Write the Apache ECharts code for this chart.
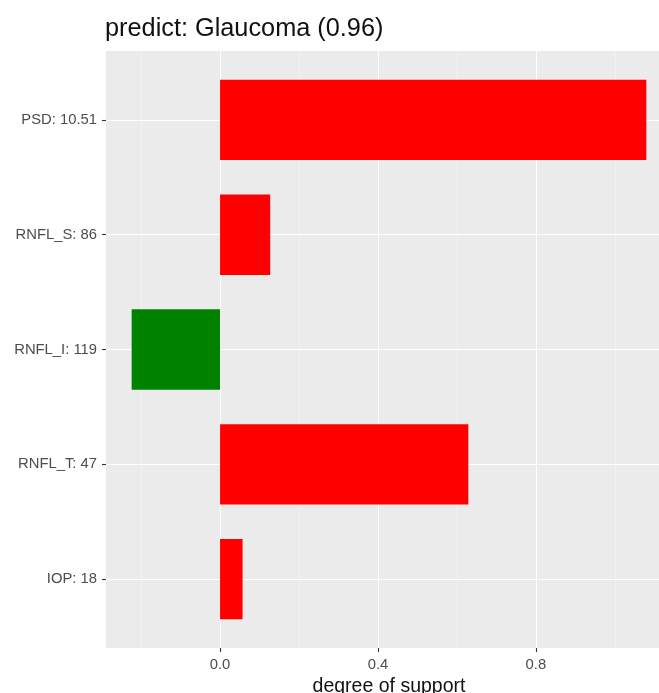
<!DOCTYPE html>
<html>
<head>
<meta charset="utf-8">
<script src="https://cdn.jsdelivr.net/npm/echarts@6/dist/echarts.min.js"></script>
<style>
  html, body { margin: 0; padding: 0; background: #ffffff; }
  #chart { width: 659px; height: 693px; }
</style>
</head>
<body>
<div id="chart"></div>
<script>
// Feature contributions for one prediction
const categories = ['PSD: 10.51', 'RNFL_S: 86', 'RNFL_I: 119', 'RNFL_T: 47', 'IOP: 18'];
const support = [1.080, 0.127, -0.224, 0.629, 0.057];
const majorTicks = [0, 0.4, 0.8];
const minorTicks = [-0.2, 0.2, 0.6, 1.0];
const xRange = [-0.289, 1.145];
const titleText = 'predict: Glaucoma (0.96)';
const xTitle = 'degree of support';

// Panel geometry (the panel runs slightly past the right edge of the canvas)
const panel = { left: 106, top: 51, width: 566, height: 597 };
const pad = 0.6;                                   // discrete expansion, category units
const n = categories.length;
const band = panel.height / ((n - 1) + 2 * pad);
const barGrid = {
  left: panel.left,
  width: panel.width,
  top: panel.top + (pad - 0.5) * band,
  height: n * band
};

const labelColor = '#4D4D4D';
const tickColor = '#333333';
const fontFamily = '"Liberation Sans", Arial, sans-serif';

const chart = echarts.init(document.getElementById('chart'), null, { renderer: 'canvas' });

chart.setOption({
  animation: false,
  title: {
    text: titleText,
    left: panel.left - 1,
    top: 17,
    padding: 0,
    textStyle: { fontFamily, fontSize: 25.3, fontWeight: 'normal', color: '#111111' }
  },
  grid: [
    Object.assign({ show: true, backgroundColor: '#EBEBEB', borderWidth: 0, containLabel: false, outerBoundsMode: 'none' }, panel),
    Object.assign({ show: false, containLabel: false, outerBoundsMode: 'none' }, barGrid)
  ],
  xAxis: [
    {
      // major grid, ticks and labels
      type: 'value', gridIndex: 0, min: xRange[0], max: xRange[1],
      name: xTitle, nameLocation: 'middle', nameGap: 27,
      nameTextStyle: { fontFamily, fontSize: 19.5, color: '#111111' },
      axisLine: { show: false, onZero: false },
      axisTick: { show: true, length: 4, customValues: majorTicks, lineStyle: { color: tickColor, width: 1.1 } },
      axisLabel: {
        customValues: majorTicks, margin: 9, fontFamily, fontSize: 14.8, color: labelColor,
        formatter: v => v.toFixed(1)
      },
      splitLine: { show: true, lineStyle: { color: '#FFFFFF', width: 1.1 } }
    },
    {
      // minor grid
      type: 'value', gridIndex: 0, min: xRange[0], max: xRange[1],
      axisLine: { show: false, onZero: false },
      axisTick: { show: false, customValues: minorTicks },
      axisLabel: { show: false, customValues: minorTicks },
      splitLine: { show: true, lineStyle: { color: '#F7F7F7', width: 0.6 } }
    },
    {
      // bar layer scale
      type: 'value', gridIndex: 1, min: xRange[0], max: xRange[1],
      show: false, splitLine: { show: false }
    }
  ],
  yAxis: [
    {
      // category labels, ticks and horizontal grid lines
      type: 'value', gridIndex: 0, inverse: true,
      min: 1 - pad, max: n + pad,
      axisLine: { show: false, onZero: false },
      axisTick: { show: true, length: 4, customValues: categories.map((c, i) => i + 1), lineStyle: { color: tickColor, width: 1.1 } },
      axisLabel: {
        customValues: categories.map((c, i) => i + 1), margin: 9,
        fontFamily, fontSize: 14.8, color: labelColor,
        formatter: v => categories[Math.round(v) - 1] || ''
      },
      splitLine: { show: true, lineStyle: { color: '#FFFFFF', width: 1.1 } }
    },
    {
      type: 'category', gridIndex: 1, inverse: true, data: categories,
      show: false, splitLine: { show: false }
    }
  ],
  series: [
    {
      type: 'bar',
      xAxisIndex: 2,
      yAxisIndex: 1,
      barWidth: '70%',
      data: support.map(v => ({
        value: v,
        itemStyle: { color: v >= 0 ? '#FF0000' : '#008200' }
      }))
    }
  ]
});
</script>
</body>
</html>
